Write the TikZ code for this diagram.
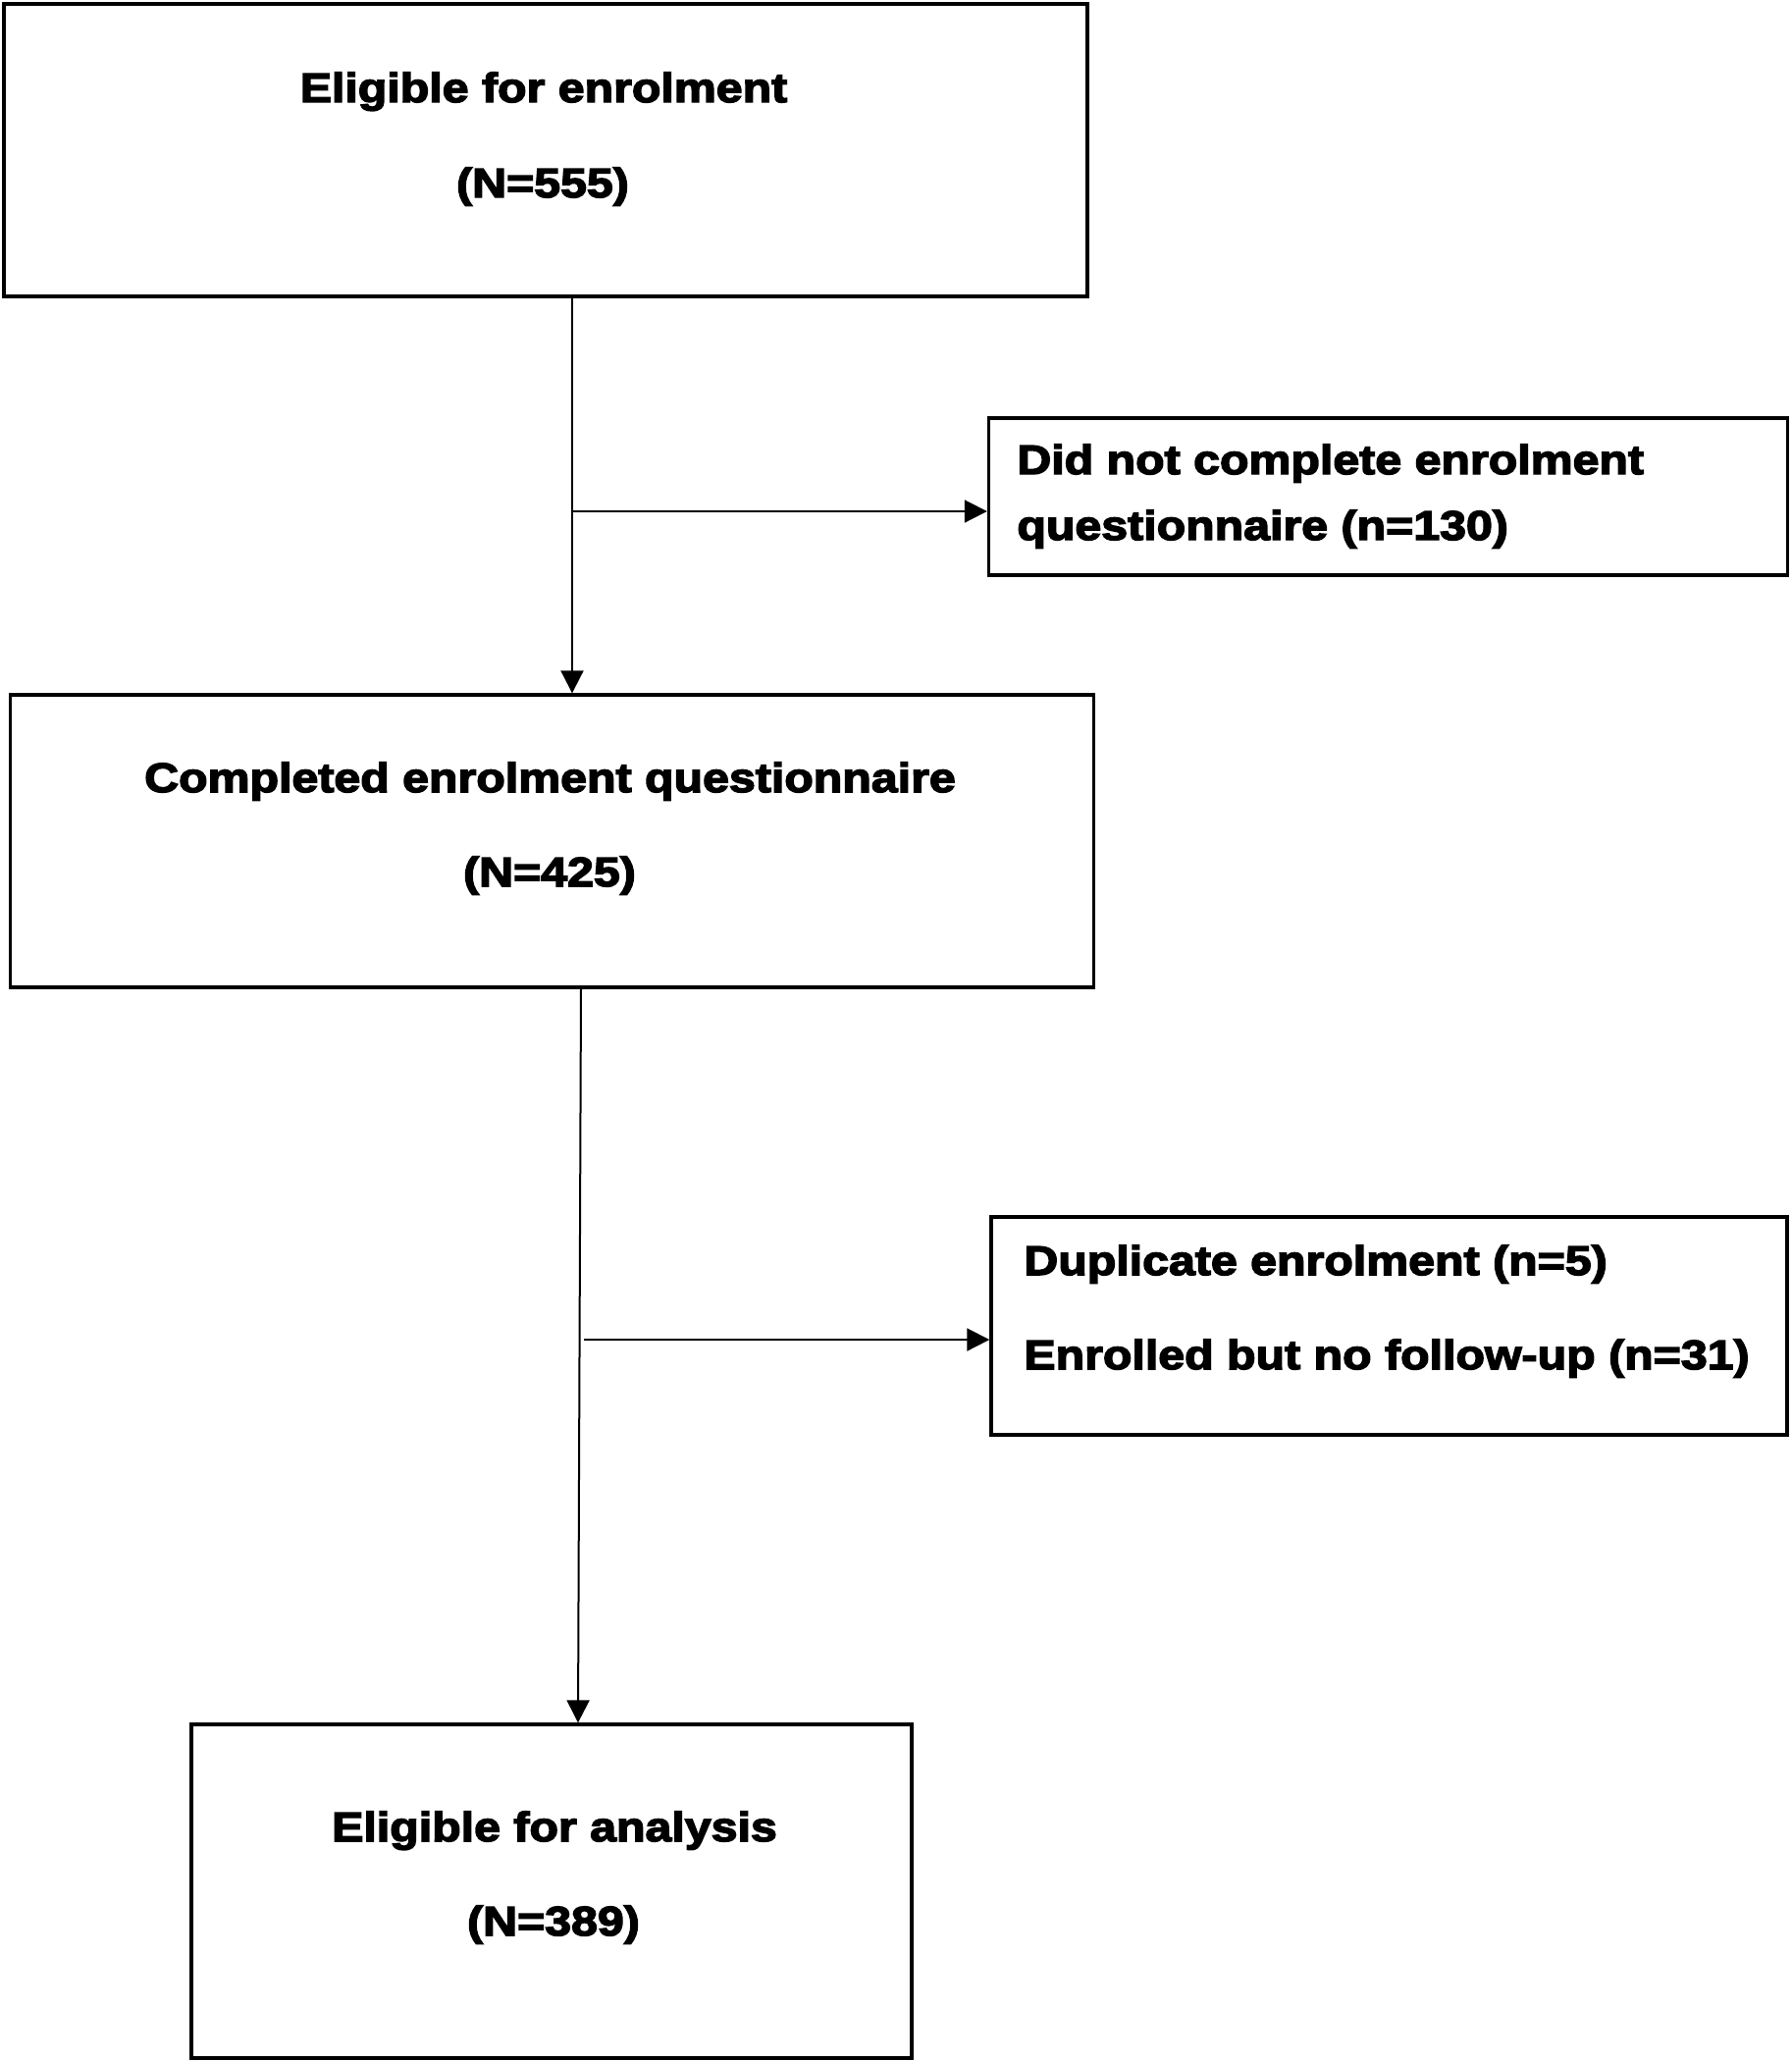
\documentclass[tikz,border=0pt]{standalone}
\usepackage{fontspec}
\setmainfont{Liberation Sans}[FakeStretch=1.15,BoldFeatures={FakeBold=3.5}]
\usetikzlibrary{arrows.meta}
\begin{document}
\begin{tikzpicture}[x=0.5pt,y=-0.5pt,
  box/.style={draw,line width=1.7pt,inner sep=0pt,rectangle},
  lbl/.style={inner sep=0pt,anchor=base,font=\fontsize{21}{25}\selectfont\bfseries},
  lbll/.style={lbl,anchor=base west},
  conn/.style={line width=1pt},
  arr/.style={conn,-{Triangle[length=11.5pt,width=11.5pt]}}]
\useasboundingbox (0,0) rectangle (1826,2100);
% boxes
\node[box,minimum width=552pt,minimum height=149pt] (b1) at (556,153) {};
\node[box,minimum width=407pt,minimum height=80pt] (b2) at (1414.5,506) {};
\node[box,minimum width=552pt,minimum height=149pt] (b3) at (562.5,857) {};
\node[box,minimum width=405.5pt,minimum height=111pt] (b4) at (1415.5,1351) {};
\node[box,minimum width=367pt,minimum height=170pt] (b5) at (562,1927) {};
% texts
\node[lbl] (t1a) at (554,104) {Eligible for enrolment};
\node[lbl] (t1b) at (553,201) {(N=555)};
\node[lbll] (t2a) at (1036,483) {Did not complete enrolment};
\node[lbll] (t2b) at (1036,550) {questionnaire (n=130)};
\node[lbl] (t3a) at (560.5,807) {Completed enrolment questionnaire};
\node[lbl] (t3b) at (560,903) {(N=425)};
\node[lbll] (t4a) at (1043,1299) {Duplicate enrolment (n=5)};
\node[lbll] (t4b) at (1043,1395) {Enrolled but no follow-up (n=31)};
\node[lbl] (t5a) at (565,1876) {Eligible for analysis};
\node[lbl] (t5b) at (564,1972) {(N=389)};
% connectors
\coordinate (j1) at (583,521);
\coordinate (j2t) at (592,0);
\coordinate (j2b) at (589,0);
\coordinate (j2) at (595,1365);
\draw[arr] (b1.south -| j1) -- (b3.north -| j1);
\draw[arr] (j1) -- (b2.west |- j1);
\draw[arr] (b3.south -| j2t) -- (b5.north -| j2b);
\draw[arr] (j2) -- (b4.west |- j2);
\end{tikzpicture}
\end{document}
